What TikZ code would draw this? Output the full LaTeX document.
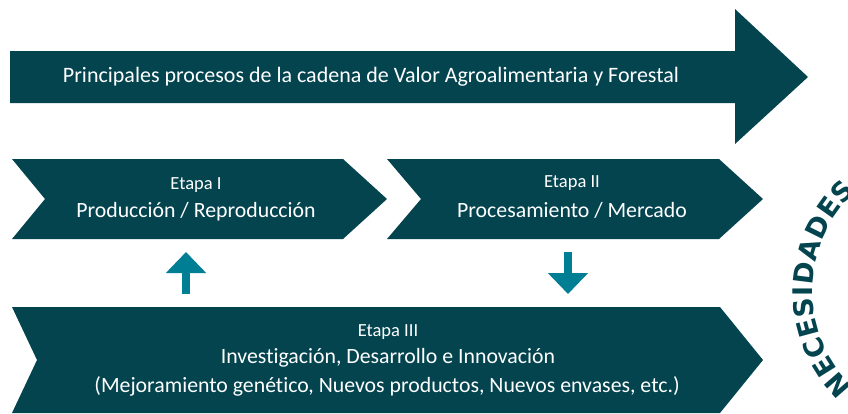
\documentclass[tikz,border=0pt]{standalone}
\usepackage{fontspec}
\setmainfont{Carlito}[Ligatures={NoCommon}]
\newfontfamily\necfont{DejaVu Sans}
\usetikzlibrary{arrows.meta}
\definecolor{dteal}{HTML}{03444F}
\definecolor{lteal}{HTML}{007E93}
\begin{document}
\begin{tikzpicture}[x=1pt,y=1pt,
  band/.style={fill=dteal},
  lbl/.style={text=white, inner sep=0pt, anchor=center},
  small/.style={lbl, font=\fontsize{18.5}{20}\selectfont},
  big/.style={lbl, font=\fontsize{21.8}{24}\selectfont},
  blockarrow/.style={draw=lteal, line width=8pt, -{Triangle[width=39pt,length=21pt]}},
  nec/.style={text=dteal, inner sep=0pt, anchor=center, font=\necfont\bfseries\fontsize{27}{28}\selectfont}]
\useasboundingbox (0,0) rectangle (848,-413);
% top arrow
\fill[band] (10,-51) -- (735,-51) -- (735,-9) -- (808,-77) -- (735,-144) -- (735,-103) -- (10,-103) -- cycle;
\node[big, font=\fontsize{22}{24}\selectfont] (title) at (371,-77) {Principales procesos de la cadena de Valor Agroalimentaria y Forestal};
% Etapa I
\fill[band] (12,-159) -- (343,-159) -- (387,-199) -- (343,-239) -- (12,-239) -- (45,-199) -- cycle;
\node[small] (e1a) at (196,-185) {Etapa I};
\node[big] (e1b) at (196,-212) {Producción / Reproducción};
% Etapa II
\fill[band] (387,-159) -- (719,-159) -- (763,-199) -- (719,-239) -- (387,-239) -- (421,-199) -- cycle;
\node[small] (e2a) at (572,-183) {Etapa II};
\node[big] (e2b) at (572,-210) {Procesamiento / Mercado};
% Etapa III
\fill[band] (12,-307) -- (720,-307) -- (763,-360) -- (720,-413) -- (12,-413) -- (37,-360) -- cycle;
\node[small] (e3a) at (388,-332) {Etapa III};
\node[big] (e3b) at (388,-358) {Investigación, Desarrollo e Innovación};
\node[big] (e3c) at (387,-386) {(Mejoramiento genético, Nuevos productos, Nuevos envases, etc.)};
% block arrows
\coordinate (upS) at (186,-294);
\coordinate (upE) at (186,-252);
\coordinate (dnS) at (568,-252);
\coordinate (dnE) at (568,-294);
\draw[blockarrow] (upS) -- (upE);
\draw[blockarrow] (dnS) -- (dnE);
% curved label
\coordinate (necc) at (946.5,-291);
\foreach \l/\a [count=\i] in {N/221.1, E/212.0, C/203.5, E/195.0, S/186.6, I/180, D/172.8, A/163.2, D/153.6, E/144.6, S/136.2}
  \node[nec, rotate=\a-90] (nec\i) at ([shift={(\a:144)}]necc) {\l};
\end{tikzpicture}
\end{document}
